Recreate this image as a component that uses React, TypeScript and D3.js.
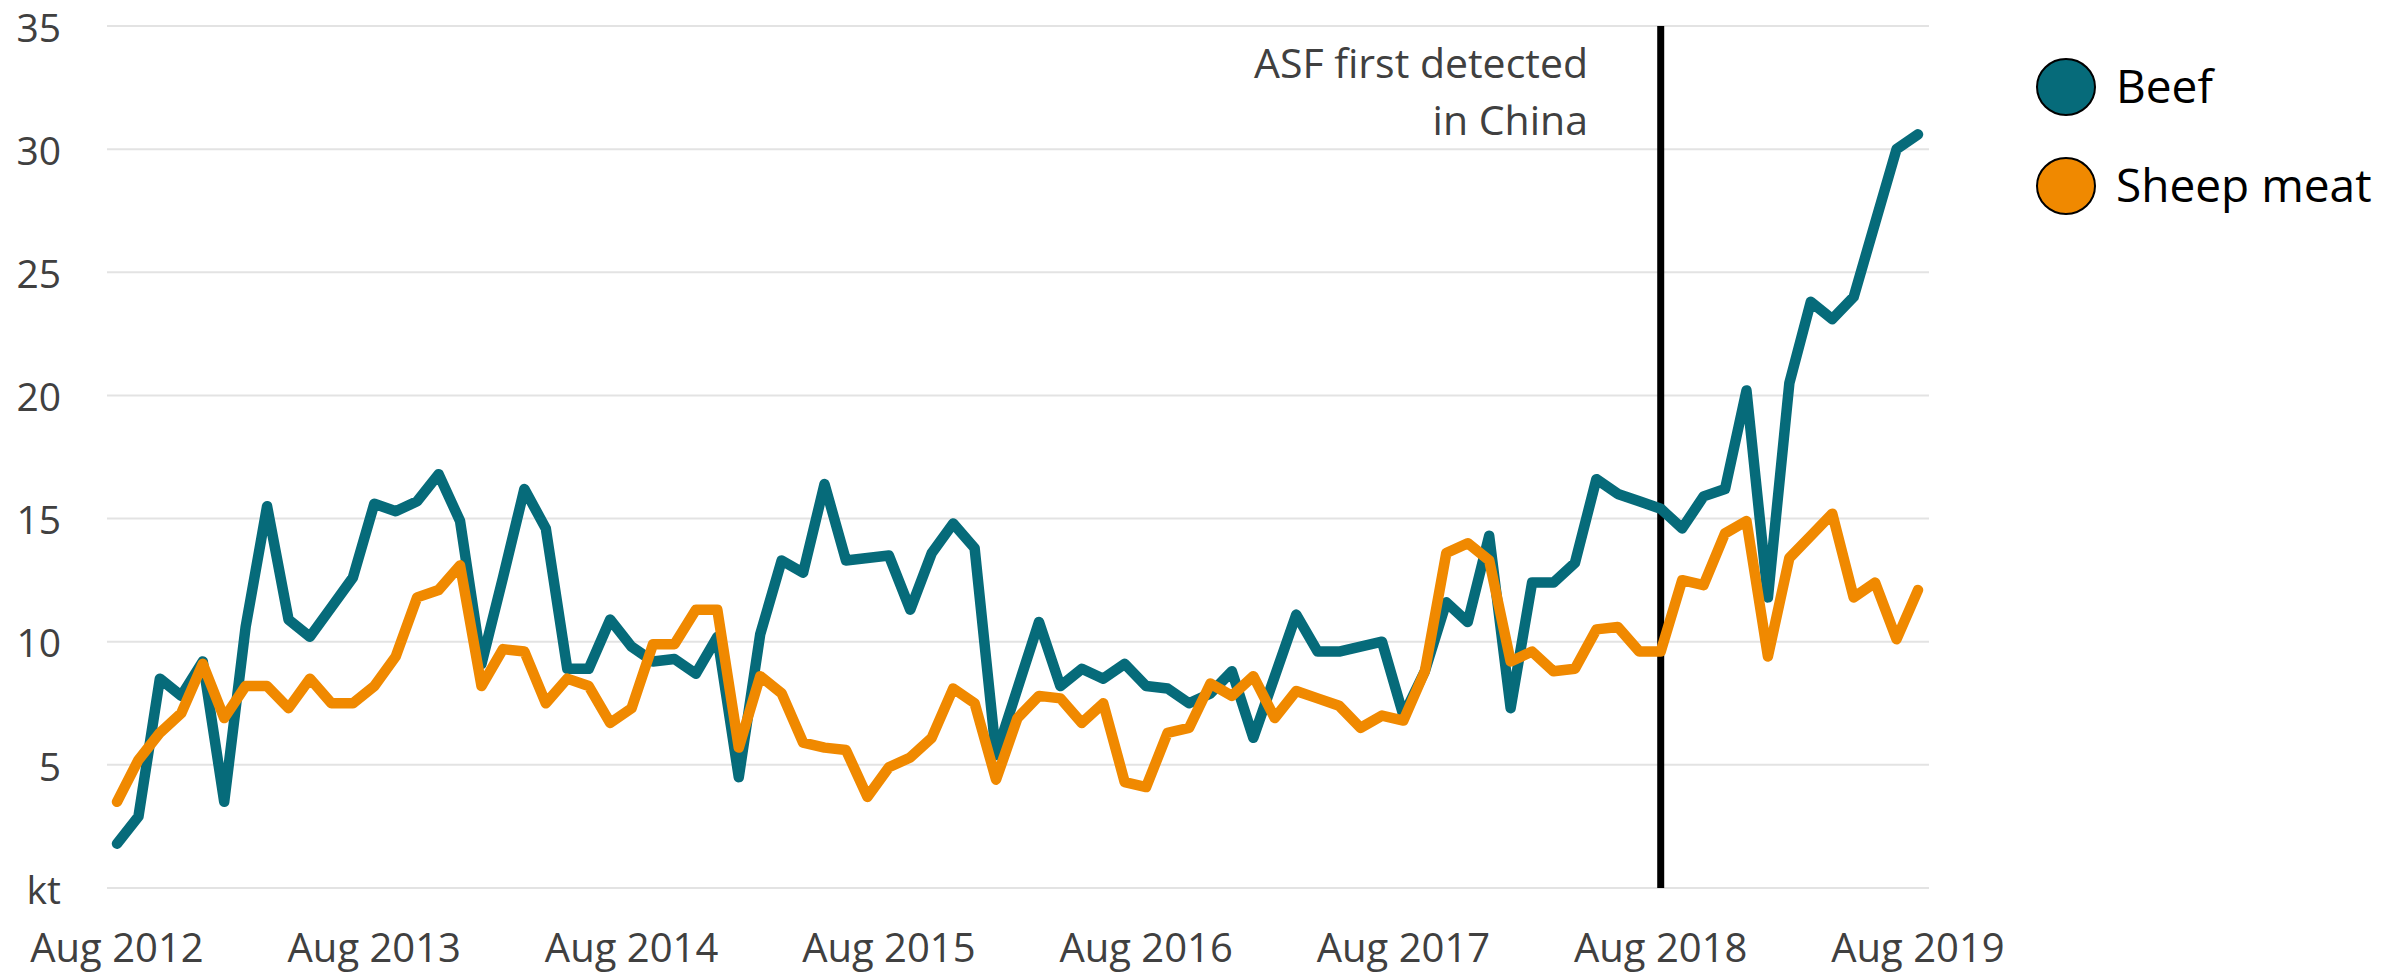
import React from 'react';
import * as d3 from 'd3';

// monthly exports, Aug 2012 - Aug 2019 (kt)
const months = d3
	.timeMonth
	.range(new Date(2012, 7, 1), new Date(2019, 8, 1))
	.map((d) => d3.timeFormat('%b %Y')(d));

const beef = [
	1.8, 2.9, 8.5, 7.8, 9.2, 3.5, 10.6, 15.5, 10.9, 10.2, 11.4, 12.6,
	15.6, 15.3, 15.7, 16.8, 14.9, 9.1, 12.6, 16.2, 14.6, 8.9, 8.9, 10.9,
	9.8, 9.2, 9.3, 8.7, 10.2, 4.5, 10.3, 13.3, 12.8, 16.4, 13.3, 13.4,
	13.5, 11.3, 13.6, 14.8, 13.8, 5.4, 8.1, 10.8, 8.2, 8.9, 8.5, 9.1,
	8.2, 8.1, 7.5, 7.9, 8.8, 6.1, 8.6, 11.1, 9.6, 9.6, 9.8, 10.0,
	7.0, 8.8, 11.6, 10.8, 14.3, 7.3, 12.4, 12.4, 13.2, 16.6, 16.0, 15.7,
	15.4, 14.6, 15.9, 16.2, 20.2, 11.8, 20.5, 23.8, 23.1, 24.0, 27.0, 30.0,
	30.6,
];

const sheepMeat = [
	3.5, 5.2, 6.3, 7.1, 9.1, 6.9, 8.2, 8.2, 7.3, 8.5, 7.5, 7.5,
	8.2, 9.4, 11.8, 12.1, 13.1, 8.2, 9.7, 9.6, 7.5, 8.5, 8.2, 6.7,
	7.3, 9.9, 9.9, 11.3, 11.3, 5.7, 8.6, 7.9, 5.9, 5.7, 5.6, 3.7,
	4.9, 5.3, 6.1, 8.1, 7.5, 4.4, 6.9, 7.8, 7.7, 6.7, 7.5, 4.3,
	4.1, 6.3, 6.5, 8.3, 7.8, 8.6, 6.9, 8.0, 7.7, 7.4, 6.5, 7.0,
	6.8, 8.8, 13.6, 14.0, 13.3, 9.2, 9.6, 8.8, 8.9, 10.5, 10.6, 9.6,
	9.6, 12.5, 12.3, 14.4, 14.9, 9.4, 13.4, 14.3, 15.2, 11.8, 12.4, 10.1,
	12.1,
];

const xTickLabels = ['Aug 2012', 'Aug 2013', 'Aug 2014', 'Aug 2015', 'Aug 2016', 'Aug 2017', 'Aug 2018', 'Aug 2019'];
const yTicks = [0, 5, 10, 15, 20, 25, 30, 35];
const asfMonth = 'Aug 2018';
const asfLabel = ['ASF first detected', 'in China'];

const seriesList = [
	{ name: 'Beef', values: beef, color: '#066b7a' },
	{ name: 'Sheep meat', values: sheepMeat, color: '#f08900' },
];

const width = 2392;
const height = 973;
const font = "'Open Sans', sans-serif";

export default function App() {
	const x = d3.scalePoint().domain(months).range([117, 1918]);
	const y = d3.scaleLinear().domain([0, 35]).range([888, 26]);
	const gridLeft = 107;
	const gridRight = 1929;

	const lineGen = d3
		.line()
		.x((d, i) => x(months[i]))
		.y((d) => y(d));

	const asfX = x(asfMonth);

	return (
		<div style={{ position: 'absolute', left: 0, top: 0 }}>
			<svg width={width} height={height} style={{ display: 'block', background: '#fff' }}>
				{/* gridlines */}
				{yTicks.map((t) => (
					<line
						key={'g' + t}
						x1={gridLeft}
						x2={gridRight}
						y1={y(t)}
						y2={y(t)}
						stroke="#e3e3e3"
						strokeWidth={2}
					/>
				))}
				{/* y labels */}
				{yTicks.map((t) => (
					<text
						key={'yl' + t}
						x={61}
						y={y(t) + 2}
						dy="0.35em"
						textAnchor="end"
						fontFamily={font}
						fontSize={39}
						fill="#404040">
						{t === 0 ? 'kt' : t}
					</text>
				))}
				{/* x labels */}
				{xTickLabels.map((lab) => (
					<text
						key={lab}
						x={x(lab)}
						y={962}
						textAnchor="middle"
						fontFamily={font}
						fontSize={40}
						fill="#404040">
						{lab}
					</text>
				))}
				{/* ASF marker */}
				<line x1={asfX} x2={asfX} y1={y(35)} y2={y(0)} stroke="#000" strokeWidth={7} />
				{asfLabel.map((s, i) => (
					<text
						key={s}
						x={1588}
						y={78 + i * 57}
						textAnchor="end"
						fontFamily={font}
						fontSize={41}
						fill="#404040">
						{s}
					</text>
				))}
				{/* series */}
				{seriesList.map((s) => (
					<path
						key={s.name}
						d={lineGen(s.values)}
						fill="none"
						stroke={s.color}
						strokeWidth={10.5}
						strokeLinejoin="round"
						strokeLinecap="round"
					/>
				))}
				{/* legend */}
				{seriesList.map((s, i) => (
					<g key={'lg' + s.name} transform={`translate(2066, ${87 + i * 99})`}>
						<ellipse rx={29} ry={28} fill={s.color} stroke="#000" strokeWidth={2} />
						<text x={50} dy="0.35em" fontFamily={font} fontSize={46} fill="#000">
							{s.name}
						</text>
					</g>
				))}
			</svg>
		</div>
	);
}
